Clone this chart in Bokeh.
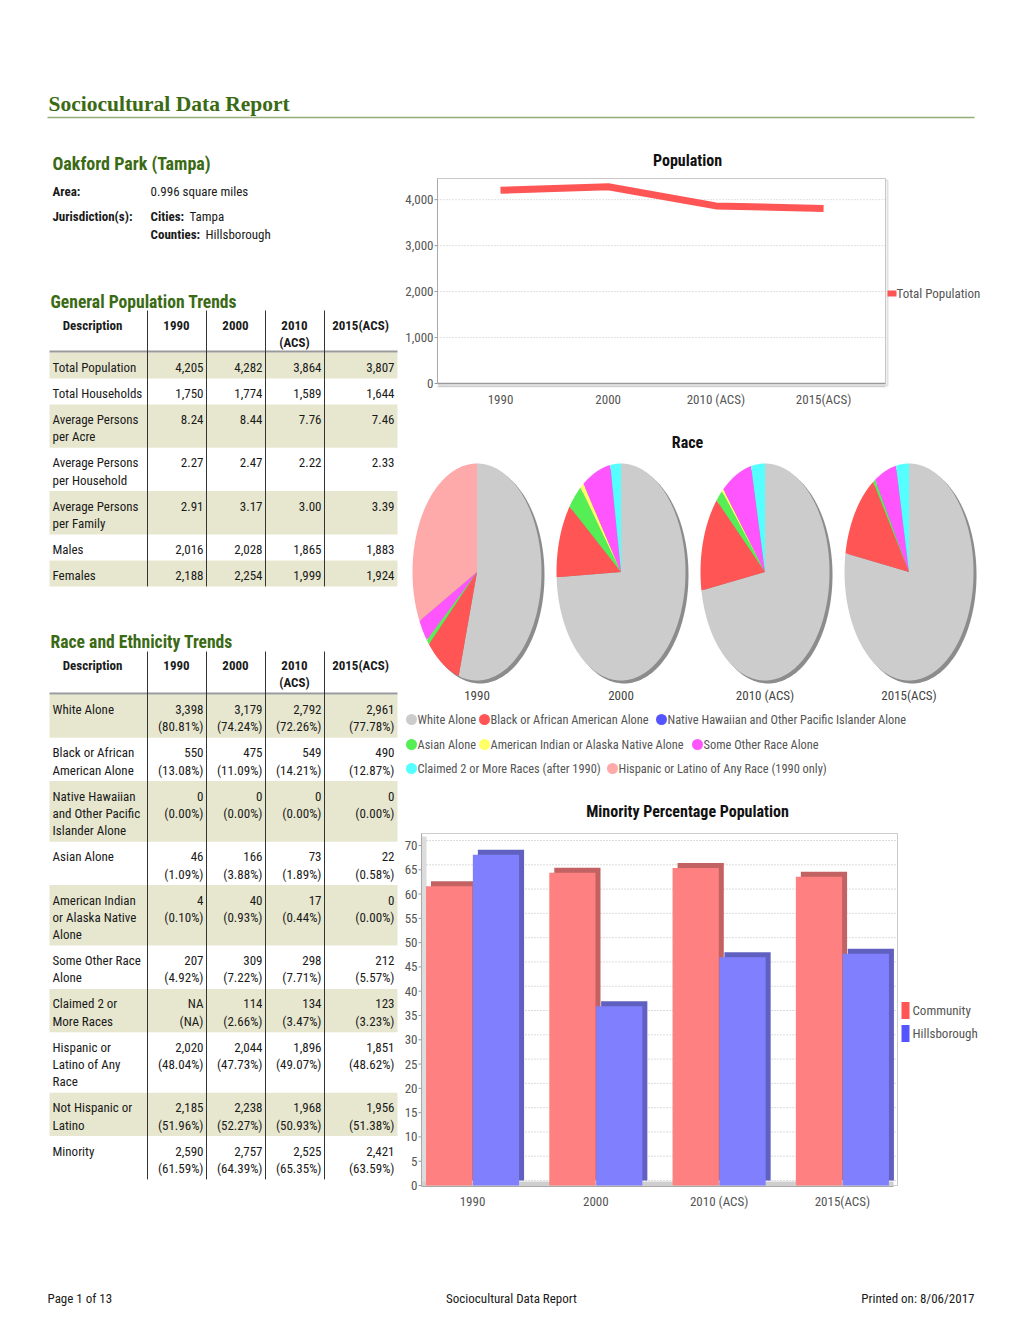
import numpy as np
from bokeh.plotting import figure
from bokeh.models import Range1d, ColumnDataSource
from bokeh.core.properties import value
from bokeh.transform import dodge
from bokeh.embed import file_html
from bokeh.resources import INLINE

FONT = "Roboto Condensed"
SERIF = "Liberation Serif"
GREEN = "#3b6a14"
TEXT = "#1a1a1a"
AXIS_TEXT = "#555555"
SHADE = "#e7e7cf"
BODY = "13px"

# ---------------- data ----------------
years = ["1990", "2000", "2010 (ACS)", "2015(ACS)"]
header_years = [["1990"], ["2000"], ["2010", "(ACS)"], ["2015(ACS)"]]

total_population = [4205, 4282, 3864, 3807]
total_households = [1750, 1774, 1589, 1644]
persons_per_acre = [8.24, 8.44, 7.76, 7.46]
persons_per_household = [2.27, 2.47, 2.22, 2.33]
persons_per_family = [2.91, 3.17, 3.00, 3.39]
males = [2016, 2028, 1865, 1883]
females = [2188, 2254, 1999, 1924]

gen_labels = [["Total Population"], ["Total Households"], ["Average Persons", "per Acre"],
              ["Average Persons", "per Household"], ["Average Persons", "per Family"],
              ["Males"], ["Females"]]

white_alone = [3398, 3179, 2792, 2961]
white_pct = [80.81, 74.24, 72.26, 77.78]
black_alone = [550, 475, 549, 490]
black_pct = [13.08, 11.09, 14.21, 12.87]
nhpi_alone = [0, 0, 0, 0]
nhpi_pct = [0.00, 0.00, 0.00, 0.00]
asian_alone = [46, 166, 73, 22]
asian_pct = [1.09, 3.88, 1.89, 0.58]
amind_alone = [4, 40, 17, 0]
amind_pct = [0.10, 0.93, 0.44, 0.00]
other_alone = [207, 309, 298, 212]
other_pct = [4.92, 7.22, 7.71, 5.57]
two_plus = [None, 114, 134, 123]
two_plus_pct = [None, 2.66, 3.47, 3.23]
hispanic = [2020, 2044, 1896, 1851]
hispanic_pct = [48.04, 47.73, 49.07, 48.62]
not_hispanic = [2185, 2238, 1968, 1956]
not_hispanic_pct = [51.96, 52.27, 50.93, 51.38]
minority = [2590, 2757, 2525, 2421]
minority_pct = [61.59, 64.39, 65.35, 63.59]

race_labels = [["White Alone"], ["Black or African", "American Alone"],
               ["Native Hawaiian", "and Other Pacific", "Islander Alone"], ["Asian Alone"],
               ["American Indian", "or Alaska Native", "Alone"], ["Some Other Race", "Alone"],
               ["Claimed 2 or", "More Races"], ["Hispanic or", "Latino of Any", "Race"],
               ["Not Hispanic or", "Latino"], ["Minority"]]

hillsborough_minority_pct = [68.1, 36.9, 47.0, 47.7]

pop_ticks = [0, 1000, 2000, 3000, 4000]
bar_ticks = [0, 5, 10, 15, 20, 25, 30, 35, 40, 45, 50, 55, 60, 65, 70]

pie_names = ["White Alone", "Black or African American Alone",
             "Native Hawaiian and Other Pacific Islander Alone", "Asian Alone",
             "American Indian or Alaska Native Alone", "Some Other Race Alone",
             "Claimed 2 or More Races (after 1990)", "Hispanic or Latino of Any Race (1990 only)"]
pie_colors = ["#cccccc", "#ff5555", "#5555ff", "#55ee55", "#ffff66", "#ff55ff", "#55ffff", "#ffaaaa"]

# ---------------- page canvas (page pixel coordinates) ----------------
W, H = 1004, 1312
p = figure(width=W, height=H, x_range=Range1d(0, W), y_range=Range1d(H, 0),
           output_backend="svg", toolbar_location=None, tools="",
           x_axis_location=None, y_axis_location=None, min_border=0, title=None)
p.grid.visible = False
p.outline_line_color = None
p.background_fill_color = "white"
p.border_fill_color = "white"

xr, yr = {}, {}


def add_ranges(name, L, R, T, B, x0, x1, y0, y1, dx=0.0, dy=0.0):
    """Data ranges whose values x0..x1 / y0..y1 fall on the page box L..R / B..T."""
    sx = (x1 - x0) / float(R - L)
    sy = (y1 - y0) / float(B - T)
    L2, B2 = L + dx, B + dy
    xr[name + "_x"] = Range1d(x0 - L2 * sx, x0 + (W - L2) * sx)
    yr[name + "_y"] = Range1d(y0 - (H - B2) * sy, y0 + B2 * sy)


def txt(x, y, t, size=BODY, color=TEXT, align="left", bold=False, font=FONT, **kw):
    p.text(x=x, y=y, text=t, text_font=value(font), text_font_size=size, text_color=color,
           text_align=align, text_baseline="middle",
           text_font_style="bold" if bold else "normal", **kw)


def fmt_count(v):
    return "NA" if v is None else "{:,}".format(v)


def fmt_pct(v):
    return "(NA)" if v is None else "({:.2f}%)".format(v)


# ---------------- header ----------------
txt([48], [103], ["Sociocultural Data Report"], size="21.5px", color=GREEN, bold=True, font=SERIF)
p.segment(x0=[47], y0=[117], x1=[974], y1=[117], line_color="#94ad78", line_width=1.5)

txt([52], [163], ["Oakford Park (Tampa)"], size="18px", color=GREEN, bold=True)
txt([52], [191], ["Area:"], bold=True)
txt([150], [191], ["0.996 square miles"])
txt([52], [216], ["Jurisdiction(s):"], bold=True)
txt([150], [216], ["Cities:"], bold=True)
txt([189], [216], ["Tampa"])
txt([150], [234], ["Counties:"], bold=True)
txt([205], [234], ["Hillsborough"])

# ---------------- tables ----------------
COL_SEP = [147, 206, 265, 324]
VAL_RIGHT = [203, 262, 321, 394]
HDR_CENTER = [176, 235, 294, 360]
TBL_L, TBL_R = 49, 397
LINE_H = 17.3
ROW_PAD = 8.7


def draw_table(heading, heading_y, hdr_y, rule_y, col_top, labels, cells):
    txt([50], [heading_y], [heading], size="17.6px", color=GREEN, bold=True)
    txt([92], [hdr_y], ["Description"], bold=True, align="center")
    for j, lines in enumerate(header_years):
        for k, ln in enumerate(lines):
            txt([HDR_CENTER[j]], [hdr_y + LINE_H * k], [ln], bold=True, align="center")
    top = rule_y + 1
    for i, lab in enumerate(labels):
        n = max(len(lab), max(len(c) for c in cells[i]))
        h = LINE_H * n + ROW_PAD
        if i % 2 == 0:
            p.quad(left=[TBL_L], right=[TBL_R], top=[top], bottom=[top + h],
                   fill_color=SHADE, line_color=None)
        for k, ln in enumerate(lab):
            txt([52], [top + 15 + LINE_H * k], [ln])
        for j in range(4):
            for k, ln in enumerate(cells[i][j]):
                txt([VAL_RIGHT[j]], [top + 15 + LINE_H * k], [ln], align="right")
        top += h
    p.segment(x0=[TBL_L], y0=[rule_y], x1=[TBL_R], y1=[rule_y], line_color="#9a9a9a", line_width=2)
    p.segment(x0=COL_SEP, y0=[col_top] * 4, x1=COL_SEP, y1=[top] * 4, line_color="#333333", line_width=1)


gen_series = [total_population, total_households, persons_per_acre, persons_per_household,
              persons_per_family, males, females]
gen_cells = [[[("{:.2f}".format(v)) if isinstance(v, float) else fmt_count(v)] for v in s]
             for s in gen_series]
draw_table("General Population Trends", 301, 325, 351, 310, gen_labels, gen_cells)

race_series = [(white_alone, white_pct), (black_alone, black_pct), (nhpi_alone, nhpi_pct),
               (asian_alone, asian_pct), (amind_alone, amind_pct), (other_alone, other_pct),
               (two_plus, two_plus_pct), (hispanic, hispanic_pct), (not_hispanic, not_hispanic_pct),
               (minority, minority_pct)]
race_cells = [[[fmt_count(c), fmt_pct(q)] for c, q in zip(cnt, pct)] for cnt, pct in race_series]
draw_table("Race and Ethnicity Trends", 641, 665, 693, 651, race_labels, race_cells)

# ---------------- population line chart ----------------
idx = list(range(len(years)))
PL, PR, PT, PB = 437, 885, 178, 383
add_ranges("pop", PL, PR, PT, PB, -0.585, 3.575, 0, 4460)
txt([687], [160], ["Population"], size="16px", bold=True, align="center", color="#111111")
p.quad(left=[PL + 2], right=[PR + 2], top=[PT + 2], bottom=[PB + 2], fill_color=None,
       line_color="#e2e2e2", line_width=2)
p.quad(left=[PL], right=[PR], top=[PT], bottom=[PB], fill_color="white", line_color="#c8c8c8")
p.segment(x0=[PL] * 4, x1=[PR] * 4, y0=pop_ticks[1:], y1=pop_ticks[1:], y_range_name="pop_y",
          line_color="#c4c4c4", line_dash="1 2")
p.segment(x0=[PL - 3] * len(pop_ticks), x1=[PL] * len(pop_ticks), y0=pop_ticks, y1=pop_ticks,
          y_range_name="pop_y", line_color="#999999")
p.segment(x0=[PL], x1=[PL], y0=[PT], y1=[PB], line_color="#aaaaaa")
p.segment(x0=[PL, PL], x1=[PR, PR], y0=[PB, PB + 3], y1=[PB, PB + 3], line_color=["#999999", "#cfcfcf"],
          line_width=[1.5, 1.5])
txt([PL - 4] * len(pop_ticks), pop_ticks, ["{:,}".format(t) for t in pop_ticks], color=AXIS_TEXT,
    align="right", y_range_name="pop_y")
txt(idx, [399] * len(idx), years, color=AXIS_TEXT, align="center", x_range_name="pop_x")
p.line(x=idx, y=total_population, x_range_name="pop_x", y_range_name="pop_y",
       line_color="#ff5555", line_width=7)
p.segment(x0=[887], x1=[896], y0=[293], y1=[293], line_color="#ff5555", line_width=6)
txt([896], [293], ["Total Population"], color=AXIS_TEXT)

# ---------------- race pies ----------------
PIE_STEP = 2.2326
add_ranges("pie", 412, 541, 463, 680, -1, 1, -1, 1)
add_ranges("pieshadow", 412, 541, 463, 680, -1, 1, -1, 1, dx=3, dy=3)
txt([687], [442], ["Race"], size="16px", bold=True, align="center", color="#111111")

th = np.linspace(0, 2 * np.pi, 240)
sh_xs, sh_ys, sl_xs, sl_ys, sl_cols = [], [], [], [], []
for i in range(len(years)):
    vals = [white_alone[i], black_alone[i], nhpi_alone[i], asian_alone[i], amind_alone[i],
            other_alone[i], two_plus[i] or 0, hispanic[i] if i == 0 else 0]
    cx = i * PIE_STEP
    sh_xs.append(list(cx + np.cos(th)))
    sh_ys.append(list(np.sin(th)))
    tot = float(sum(vals))
    ang = np.pi / 2
    for v, c in zip(vals, pie_colors):
        if v <= 0:
            continue
        span = 2 * np.pi * v / tot
        n = max(3, int(span / 0.01) + 2)
        t = np.linspace(ang, ang - span, n)
        sl_xs.append([cx] + list(cx + np.cos(t)))
        sl_ys.append([0.0] + list(np.sin(t)))
        sl_cols.append(c)
        ang -= span
p.patches(xs=sh_xs, ys=sh_ys, fill_color="#8c8c8c", line_color=None,
          x_range_name="pieshadow_x", y_range_name="pieshadow_y")
p.patches(xs=sl_xs, ys=sl_ys, fill_color=sl_cols, line_color=None,
          x_range_name="pie_x", y_range_name="pie_y")
txt([i * PIE_STEP for i in idx], [695] * len(idx), years, color="#444444", align="center",
    x_range_name="pie_x")

leg_pos = [(411, 719), (484, 719), (661, 719), (411, 744), (484, 744), (697, 744), (411, 768), (612, 768)]
p.scatter(x=[q[0] for q in leg_pos], y=[q[1] for q in leg_pos], marker="circle", size=11,
          fill_color=pie_colors, line_color=None)
txt([q[0] + 6 for q in leg_pos], [q[1] for q in leg_pos], pie_names, size="12.4px", color=AXIS_TEXT)

# ---------------- minority bar chart ----------------
BL, BR, BT, BB = 421, 897, 833, 1185
add_ranges("bar", BL, BR, BT, BB, -0.414, 3.447, 0, 72.47)
add_ranges("barback", BL, BR, BT, BB, -0.414, 3.447, 0, 72.47, dx=5, dy=-5)
txt([687], [811], ["Minority Percentage Population"], size="16px", bold=True, align="center",
    color="#111111")
p.quad(left=[BL], right=[BR], top=[BT], bottom=[BB], fill_color="white", line_color="#cccccc")
p.quad(left=[BL], right=[BL + 5], top=[BT + 3], bottom=[BB], fill_color="#dcdcdc", line_color=None)
p.quad(left=[BL], right=[BR - 4], top=[BB - 4], bottom=[BB + 1], fill_color="#cfcfcf", line_color=None)
p.segment(x0=[BL + 5] * len(bar_ticks), x1=[BR] * len(bar_ticks), y0=bar_ticks, y1=bar_ticks,
          y_range_name="barback_y", line_color="#b8b8b8", line_dash="1 2")
p.segment(x0=[BL - 3] * len(bar_ticks), x1=[BL] * len(bar_ticks), y0=bar_ticks, y1=bar_ticks,
          y_range_name="bar_y", line_color="#999999")
p.segment(x0=[BL, BL], x1=[BL, BR - 4], y0=[BT, BB + 1], y1=[BB + 1, BB + 1], line_color="#aaaaaa")
txt([BL - 4] * len(bar_ticks), bar_ticks, [str(t) for t in bar_ticks], color=AXIS_TEXT,
    align="right", y_range_name="bar_y")
txt(idx, [1201] * len(idx), years, color=AXIS_TEXT, align="center", x_range_name="bar_x")

src = ColumnDataSource(dict(x=idx, community=minority_pct, hills=hillsborough_minority_pct))
BW = 0.375
p.vbar(x=dodge("x", -0.19), top="community", width=BW, fill_color="#c26262", line_color=None,
       source=src, x_range_name="barback_x", y_range_name="barback_y")
p.vbar(x=dodge("x", -0.19), top="community", width=BW, fill_color="#ff8080", line_color=None,
       source=src, x_range_name="bar_x", y_range_name="bar_y")
p.vbar(x=dodge("x", 0.19), top="hills", width=BW, fill_color="#6060c0", line_color=None,
       source=src, x_range_name="barback_x", y_range_name="barback_y")
p.vbar(x=dodge("x", 0.19), top="hills", width=BW, fill_color="#8080ff", line_color=None,
       source=src, x_range_name="bar_x", y_range_name="bar_y")

p.rect(x=[905, 905], y=[1010, 1033], width=8, height=17, width_units="screen", height_units="screen",
       fill_color=["#ff5555", "#5555ff"], line_color=None)
txt([912, 912], [1010, 1033], ["Community", "Hillsborough"], color=AXIS_TEXT)

# ---------------- footer ----------------
txt([47], [1298], ["Page 1 of 13"])
txt([511], [1298], ["Sociocultural Data Report"], align="center")
txt([974], [1298], ["Printed on: 8/06/2017"], align="right")

p.extra_x_ranges = xr
p.extra_y_ranges = yr

open("out.html", "w").write(file_html(p, INLINE, title="Sociocultural Data Report"))
